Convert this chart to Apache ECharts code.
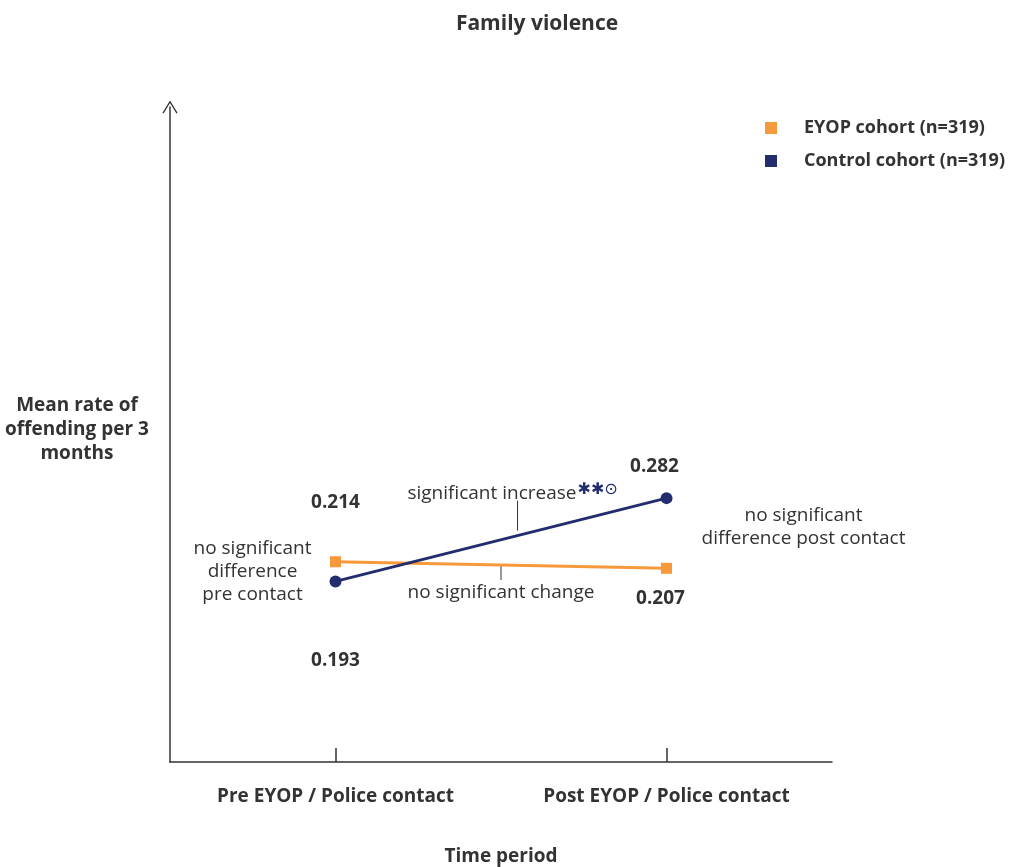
<!DOCTYPE html>
<html><head><meta charset="utf-8">
<script src="https://cdn.jsdelivr.net/npm/echarts@6/dist/echarts.min.js"></script>
<style>html,body{margin:0;padding:0;background:#fff}#c{width:1017px;height:867px}</style>
</head><body><div id="c"></div>
<script>
const categories = ['Pre EYOP / Police contact', 'Post EYOP / Police contact'];
const seriesNames = ['EYOP cohort (n=319)', 'Control cohort (n=319)'];
const eyopValues = [0.214, 0.207];
const controlValues = [0.193, 0.282];
const yMin = 0, yMax = 0.7;
const yAxisTitle = 'Mean rate of\noffending per 3\nmonths';
const annotPre = 'no significant\ndifference\npre contact';
const annotPost = 'no significant\ndifference post contact';
const annotIncrease = 'significant increase';
const annotIncreaseMark = '✱✱⊙';
const annotChange = 'no significant change';

const ORANGE = '#F6993A', NAVY = '#232D6E', TXT = '#333333';
const FONT = '"Open Sans", "Noto Sans", sans-serif';

const chart = echarts.init(document.getElementById('c'));
const fmt = v => v.toFixed(3);

chart.setOption({
  animation: false,
  backgroundColor: '#fff',
  textStyle: { fontFamily: FONT },
  title: {
    text: 'Family violence', left: 532, top: 9, textAlign: 'center',
    textStyle: { fontFamily: FONT, fontSize: 21, fontWeight: 'bold', color: TXT }
  },
  legend: {
    orient: 'vertical', left: 765, top: 118, padding: 0, itemWidth: 12, itemHeight: 12, itemGap: 13,
    data: [{ name: seriesNames[0], icon: 'rect' }, { name: seriesNames[1], icon: 'rect' }],
    textStyle: { fontFamily: FONT, fontSize: 18, fontWeight: 'bold', color: TXT, lineHeight: 20, padding: [0, 0, 0, 22] }
  },
  grid: { left: 170, right: 185, top: 107, bottom: 105, outerBoundsMode: 'none', containLabel: false },
  xAxis: {
    type: 'category', data: categories, boundaryGap: true,
    name: 'Time period', nameLocation: 'middle', nameGap: 95,
    nameTextStyle: { fontFamily: FONT, fontSize: 19, fontWeight: 'bold', color: TXT, verticalAlign: 'middle' },
    axisLine: { lineStyle: { color: TXT, width: 1.5 } },
    axisTick: { show: true, alignWithLabel: true, inside: true, length: 14, lineStyle: { color: TXT, width: 1.5 } },
    axisLabel: { margin: 35, verticalAlign: 'middle', fontFamily: FONT, fontSize: 19, fontWeight: 'bold', color: TXT },
    splitLine: { show: false }
  },
  yAxis: {
    type: 'value', min: yMin, max: yMax,
    axisLine: { show: true, lineStyle: { color: TXT, width: 1.5 },
      symbol: ['none', 'path://M0,13 L8,0 L16,13 L14.8,13.8 L8,2.6 L1.2,13.8 Z'], symbolSize: [16, 13] },
    axisTick: { show: false }, axisLabel: { show: false }, splitLine: { show: false }
  },
  series: [
    {
      name: seriesNames[0], type: 'line', symbol: 'rect', symbolSize: 11,
      itemStyle: { color: ORANGE }, lineStyle: { color: ORANGE, width: 3 },
      data: [
        { value: eyopValues[0], label: { show: true, position: 'top', distance: 44 } },
        { value: eyopValues[1], label: { show: true, position: 'bottom', distance: 15, offset: [-6, 0] } }
      ],
      label: { formatter: p => fmt(p.value), fontFamily: FONT, fontSize: 19, fontWeight: 'bold', color: TXT }
    },
    {
      name: seriesNames[1], type: 'line', symbol: 'circle', symbolSize: 12,
      itemStyle: { color: NAVY }, lineStyle: { color: NAVY, width: 3 },
      data: [
        { value: controlValues[0], label: { show: true, position: 'bottom', distance: 64 } },
        { value: controlValues[1], label: { show: true, position: 'top', distance: 16, offset: [-12, 0] } }
      ],
      label: { formatter: p => fmt(p.value), fontFamily: FONT, fontSize: 19, fontWeight: 'bold', color: TXT }
    }
  ]
});

function px(i, v) { return chart.convertToPixel({ gridIndex: 0 }, [i, v]); }
const oPre = px(0, eyopValues[0]), oPost = px(1, eyopValues[1]);
const cPre = px(0, controlValues[0]), cPost = px(1, controlValues[1]);
const axisMid = px(0, (yMin + yMax) / 2);
const axisLeft = chart.convertToPixel({ xAxisIndex: 0 }, categories[0]) - (px(1, 0)[0] - px(0, 0)[0]) / 2;
const lerp = (a, b, t) => [a[0] + (b[0] - a[0]) * t, a[1] + (b[1] - a[1]) * t];
const incPt = lerp(cPre, cPost, 0.55);
const chgPt = lerp(oPre, oPost, 0.5);
const baseText = { fontFamily: FONT, fontSize: 19, fill: TXT, align: 'center', verticalAlign: 'middle', lineHeight: 23 };

chart.setOption({
  graphic: [
    { type: 'text', style: { text: yAxisTitle, x: axisLeft - 93, y: axisMid[1] - 5, align: 'center', verticalAlign: 'middle',
        fontFamily: FONT, fontSize: 19, fontWeight: 'bold', fill: TXT, lineHeight: 24 } },
    { type: 'text', style: Object.assign({}, baseText, { text: annotPre, x: oPre[0] - 83, y: (oPre[1] + cPre[1]) / 2 + 0.5 }) },
    { type: 'text', style: Object.assign({}, baseText, { text: annotPost, x: oPost[0] + 137, y: (oPost[1] + cPost[1]) / 2 - 6 }) },
    { type: 'line', shape: { x1: incPt[0], y1: incPt[1] - 5, x2: incPt[0], y2: incPt[1] - 35 }, style: { stroke: TXT, lineWidth: 1 } },
    { type: 'text', style: {
        text: '{a|' + annotIncrease + '}{b|' + annotIncreaseMark + '}',
        x: incPt[0] - 5, y: incPt[1] - 42, align: 'center', verticalAlign: 'middle',
        rich: {
          a: { fontFamily: FONT, fontSize: 19, fill: TXT, color: TXT },
          b: { fontFamily: '"DejaVu Sans", sans-serif', fontSize: 16, fill: NAVY, color: NAVY, padding: [0, 0, 8, 1] }
        }
      } },
    { type: 'line', shape: { x1: chgPt[0], y1: chgPt[1] + 1, x2: chgPt[0], y2: chgPt[1] + 15 }, style: { stroke: TXT, lineWidth: 1 } },
    { type: 'text', style: Object.assign({}, baseText, { text: annotChange, x: chgPt[0], y: chgPt[1] + 28 }) }
  ]
});
</script>
</body></html>
